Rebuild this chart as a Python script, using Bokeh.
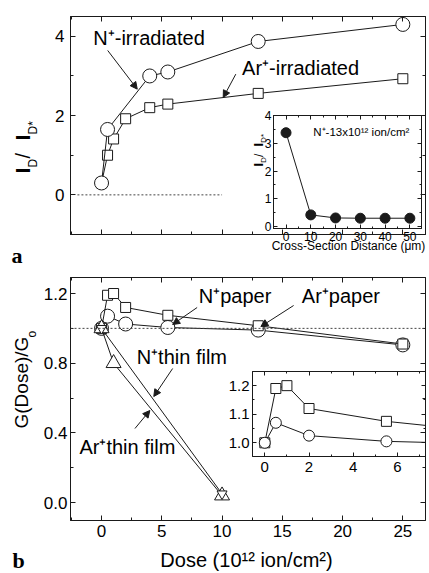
import math
from bokeh.plotting import figure
from bokeh.models import (Range1d, LinearAxis, SingleIntervalTicker, Label, Arrow,
                          NormalHead, Span, GridBox, Grid, CustomLabelingPolicy,
                          PrintfTickFormatter)
from bokeh.embed import file_html
from bokeh.resources import INLINE

SANS = "Liberation Sans"
SERIF = "Liberation Serif"
INK = "#1a1a1a"

# ---------------- data ----------------
# panel a : I_D / I_D* versus dose (10^12 ion/cm^2)
dose_n_a = [0, 0.5, 4, 5.5, 13, 25]
ratio_n_a = [0.30, 1.65, 3.00, 3.10, 3.87, 4.30]
dose_ar_a = [0, 0.5, 1, 2, 4, 5.5, 13, 25]
ratio_ar_a = [0.30, 1.00, 1.41, 1.92, 2.20, 2.29, 2.56, 2.93]
zero_ref_x = [-2, 10]
zero_ref_y = [0, 0]

# inset a : ratio versus cross-section distance (um)
dist_um = [0, 10, 20, 30, 40, 50]
ratio_dist = [3.38, 0.42, 0.31, 0.30, 0.30, 0.30]

# panel b : G(Dose)/Go versus dose
dose_n_paper = [0, 0.5, 2, 5.5, 13, 25]
g_n_paper = [1.0, 1.07, 1.025, 1.005, 0.99, 0.905]
dose_ar_paper = [0, 0.5, 1, 2, 5.5, 13, 25]
g_ar_paper = [1.0, 1.19, 1.20, 1.12, 1.075, 1.015, 0.91]
dose_n_film = [0, 10]
g_n_film = [1.0, 0.05]
dose_ar_film = [0, 1, 10]
g_ar_film = [1.0, 0.80, 0.04]
ref_level_b = 1.0

# ---------------- geometry ----------------
XR = (-2.575, 26.88)
YA = (-1.0, 4.5)
YB = (-0.103, 1.292)
XI_A = (-5.06, 54.7)
YI_A = (-0.07, 4.0)
XI_B = (-0.556, 7.267)
YI_B = (0.952, 1.2495)
BASE_SHIFT = 0.32   # em; lifts Bokeh's text so its baseline sits on the anchor

HIDE_LABELS = CustomLabelingPolicy(code="""
for (const i of indices) { indices.unset(i) }
return indices
""")


def mapper(frame, xr, yr):
    fx0, fy0, fx1, fy1 = frame

    def fx(px):
        return xr[0] + (px - fx0) * (xr[1] - xr[0]) / (fx1 - fx0)

    def fy(py):
        return yr[1] - (py - fy0) * (yr[1] - yr[0]) / (fy1 - fy0)
    return fx, fy


def make_fig(w, h, xr, yr, left, right, top, bottom, transparent=False):
    p = figure(width=w, height=h, x_range=Range1d(*xr), y_range=Range1d(*yr),
               output_backend="svg", toolbar_location=None,
               x_axis_location=None, y_axis_location=None,
               min_border_left=left, min_border_right=right,
               min_border_top=top, min_border_bottom=bottom, align="start")
    p.outline_line_color = INK
    p.outline_line_width = 1
    if transparent:
        p.background_fill_alpha = 0
        p.border_fill_alpha = 0
    for r in p.center:
        if isinstance(r, Grid):
            r.visible = False
    return p


def add_axes(p, xt, yt, xsize, ysize, xshow=True, yshow=True, xstand=4, ystand=4,
             tick_in=5, minor_in=3, yfmt=None):
    out = {}
    for loc, tk, show, size, st in [("below", xt, xshow, xsize, xstand),
                                     ("above", xt, False, xsize, 0),
                                     ("left", yt, yshow, ysize, ystand),
                                     ("right", yt, False, ysize, 0)]:
        ax = LinearAxis(ticker=SingleIntervalTicker(interval=tk[0], num_minor_ticks=tk[1]))
        ax.axis_line_color = INK
        ax.axis_line_width = 1
        ax.major_tick_in = tick_in
        ax.major_tick_out = 0
        ax.minor_tick_in = minor_in
        ax.minor_tick_out = 0
        ax.major_tick_line_color = INK
        ax.minor_tick_line_color = INK
        ax.major_label_text_font = SANS
        ax.major_label_text_color = "black"
        if show:
            ax.major_label_text_font_size = size
            ax.major_label_standoff = st
        else:
            ax.major_label_text_font_size = "1px"
            ax.major_label_standoff = 0
            ax.major_label_policy = HIDE_LABELS
        if yfmt and loc in ("left", "right"):
            ax.formatter = PrintfTickFormatter(format=yfmt)
        p.add_layout(ax, loc)
        out[loc] = ax
    return out


def place_text(p, fx, fy, px, py, text, size, bold=False, rotated=False, font=SANS,
               align="left"):
    """px, py: wanted baseline start in page pixels."""
    if rotated:
        px = px - BASE_SHIFT * size
    else:
        py = py - BASE_SHIFT * size
    p.add_layout(Label(x=fx(px), y=fy(py), text=text, text_font=font,
                       text_font_size=f"{size}px",
                       text_font_style="bold" if bold else "normal",
                       angle=math.pi / 2 if rotated else 0.0,
                       text_align=align, text_baseline="alphabetic", text_color="black"))


def add_arrow(p, x0, y0, x1, y1, head=7):
    p.add_layout(Arrow(end=NormalHead(size=head, fill_color=INK, line_color=INK, line_width=1),
                       x_start=x0, y_start=y0, x_end=x1, y_end=y1,
                       line_color=INK, line_width=1))


# ---------------- panel a ----------------
pa = make_fig(429, 268, XR, YA, 70, 1, 16, 8)
add_axes(pa, (5, 2), (2, 2), "17px", "17px", xshow=False, ystand=6)
fa_x, fa_y = mapper((70, 16, 428, 260), XR, YA)

pa.line(zero_ref_x, zero_ref_y, line_color="#444", line_width=1, line_dash="2 2")
pa.line(dose_ar_a, ratio_ar_a, line_color=INK, line_width=1)
pa.scatter(dose_ar_a, ratio_ar_a, marker="square", size=10, fill_color="white",
           line_color=INK, line_width=1)
pa.line(dose_n_a, ratio_n_a, line_color=INK, line_width=1)
pa.scatter(dose_n_a, ratio_n_a, marker="circle", size=14, fill_color="white",
           line_color=INK, line_width=1)

place_text(pa, fa_x, fa_y, 93, 46.5, "N⁺-irradiated", 20)
place_text(pa, fa_x, fa_y, 243, 80, "Ar⁺-irradiated", 20)
add_arrow(pa, fa_x(107.5), fa_y(54), fa_x(137.3), fa_y(97.3))
add_arrow(pa, fa_x(236.7), fa_y(80.5), fa_x(224), fa_y(106.7))

# ---------------- inset a ----------------
pia = make_fig(181, 154, XI_A, YI_A, 29, 2, 7, 34, transparent=True)
add_axes(pia, (10, 2), (1, 2), "12px", "12px", xstand=3, ystand=2, tick_in=4, minor_in=2)
fia_x, fia_y = mapper((273, 115, 423, 228), XI_A, YI_A)
pia.line(dist_um, ratio_dist, line_color=INK, line_width=1)
pia.scatter(dist_um, ratio_dist, marker="circle", size=10, fill_color=INK, line_color=INK)
place_text(pia, fia_x, fia_y, 313.3, 135, "N⁺-13x10¹² ion/cm²", 11.5)

# ---------------- panel b ----------------
pb = make_fig(429, 305, XR, YB, 70, 1, 9, 53)
add_axes(pb, (5, 2), (0.4, 2), "17px", "17px", xstand=4, ystand=3, yfmt="%.1f")
fb_x, fb_y = mapper((70, 277, 428, 520), XR, YB)

pb.add_layout(Span(location=ref_level_b, dimension="width", line_color="#444",
                   line_width=1, line_dash="2 2"))
pb.line(dose_n_paper, g_n_paper, line_color=INK, line_width=1)
pb.scatter(dose_n_paper, g_n_paper, marker="circle", size=14, fill_color="white",
           line_color=INK, line_width=1)
pb.line(dose_ar_paper, g_ar_paper, line_color=INK, line_width=1)
pb.scatter(dose_ar_paper, g_ar_paper, marker="square", size=10, fill_color="white",
           line_color=INK, line_width=1)
pb.line(dose_n_film, g_n_film, line_color=INK, line_width=1)
pb.line(dose_ar_film, g_ar_film, line_color=INK, line_width=1)
pb.scatter(dose_ar_film, g_ar_film, marker="triangle", size=15, fill_color="white",
           line_color=INK, line_width=1)
pb.scatter(dose_n_film, g_n_film, marker="inverted_triangle", size=10, fill_color="white",
           line_color=INK, line_width=1)

place_text(pb, fb_x, fb_y, 199.3, 301.7, "N⁺paper", 20)
place_text(pb, fb_x, fb_y, 303.3, 301.7, "Ar⁺paper", 20)
place_text(pb, fb_x, fb_y, 136.7, 362.7, "N⁺thin film", 20)
place_text(pb, fb_x, fb_y, 79, 452.7, "Ar⁺thin film", 20)
add_arrow(pb, fb_x(197.7), fb_y(307), fb_x(173), fb_y(324))
add_arrow(pb, fb_x(295), fb_y(305), fb_x(262), fb_y(326))
add_arrow(pb, fb_x(173), fb_y(368), fb_x(154), fb_y(396))
add_arrow(pb, fb_x(135), fb_y(428), fb_x(150), fb_y(410))

# ---------------- inset b ----------------
pib = make_fig(207, 146, XI_B, YI_B, 30, 1, 8, 24, transparent=True)
add_axes(pib, (2, 2), (0.1, 2), "15px", "15px", xstand=5, ystand=3, tick_in=4, minor_in=2,
         yfmt="%.1f")
pib.line(dose_ar_paper, g_ar_paper, line_color=INK, line_width=1)
pib.scatter(dose_ar_paper, g_ar_paper, marker="square", size=10, fill_color="white",
            line_color=INK, line_width=1)
pib.line(dose_n_paper, g_n_paper, line_color=INK, line_width=1)
pib.scatter(dose_n_paper, g_n_paper, marker="circle", size=11, fill_color="white",
            line_color=INK, line_width=1)

# ---------------- page-level text layer (axis titles, panel letters) ----------------
ov = figure(width=429, height=573, x_range=Range1d(0, 429), y_range=Range1d(573, 0),
            output_backend="svg", toolbar_location=None,
            x_axis_location=None, y_axis_location=None, min_border=0, align="start")
ov.min_border_left = 0
ov.min_border_right = 0
ov.min_border_top = 0
ov.min_border_bottom = 0
ov.outline_line_color = None
ov.background_fill_alpha = 0
ov.border_fill_alpha = 0
for r in ov.center:
    if isinstance(r, Grid):
        r.visible = False


def ident(v):
    return v


def page_text(px, py, text, size, **kw):
    place_text(ov, ident, ident, px, py, text, size, **kw)


page_text(11, 262, "a", 22, bold=True, font=SERIF)
page_text(12, 567, "b", 22, bold=True, font=SERIF)
# I_D / I_D*  (panel a)
page_text(28.5, 173, "I", 21, bold=True, rotated=True)
page_text(36.5, 167, "D", 12, rotated=True)
page_text(28.5, 158, " / ", 20, rotated=True)
page_text(28.5, 140, "I", 21, bold=True, rotated=True)
page_text(36.5, 134, "D*", 12, rotated=True)
# I_D / I_D*  (inset a)
page_text(262, 166, "I", 13, bold=True, rotated=True)
page_text(265.5, 162.4, "D", 8, rotated=True)
page_text(262, 156.5, " / ", 12, rotated=True)
page_text(262, 146, "I", 13, bold=True, rotated=True)
page_text(265.5, 142.4, "D*", 8, rotated=True)
page_text(348, 249.5, "Cross-Section Distance (μm)", 12, align="center")
# G(Dose)/Go (panel b)
page_text(27, 428, "G(Dose)/G", 19, rotated=True)
page_text(35, 337, "o", 12, rotated=True)
page_text(246, 566, "Dose (10¹² ion/cm²)", 20, align="center")

# zero-size outer tracks keep the text layer's edges apart from the panels' edges,
# so the grid does not align its frame with theirs
grid = GridBox(children=[(pa, 1, 1, 2, 3), (pia, 2, 3, 1, 1),
                         (pb, 3, 1, 2, 3), (pib, 4, 2, 1, 2),
                         (ov, 0, 0, 6, 5)],
               rows=["0px", "108px", "160px", "95px", "210px", "0px"],
               cols=["0px", "222px", "22px", "185px", "0px"], spacing=0)

open("out.html", "w").write(file_html(grid, INLINE))
